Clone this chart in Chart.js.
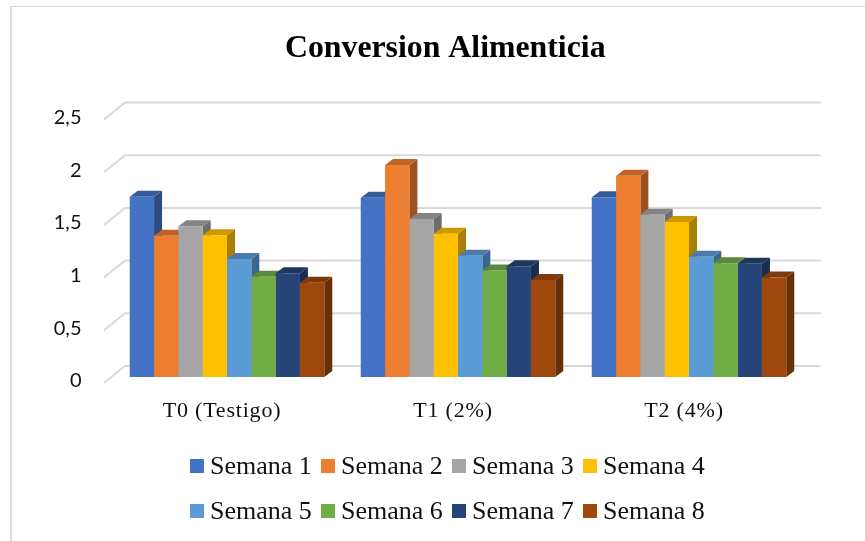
<!DOCTYPE html>
<html lang="es">
<head>
<meta charset="utf-8">
<title>Conversion Alimenticia</title>
<script src="https://cdn.jsdelivr.net/npm/chart.js@4"></script>
<style>
html,body{margin:0;padding:0;background:#fff;overflow:hidden}
#wrap{position:relative;width:865px;height:541px}
#frame{position:absolute;left:10px;top:6px;right:0;bottom:0;border-left:2px solid #dcdcdc;border-top:1px solid #d6d6d6}
canvas{position:absolute;left:0;top:0}
</style>
</head>
<body>
<div id="wrap"><div id="frame"></div><canvas id="c" width="865" height="541"></canvas></div>
<script>
const categories = ['T0 (Testigo)', 'T1 (2%)', 'T2 (4%)'];
const seriesNames = ['Semana 1','Semana 2','Semana 3','Semana 4','Semana 5','Semana 6','Semana 7','Semana 8'];
const semana1 = [1.71, 1.70, 1.705];
const semana2 = [1.34, 2.01, 1.91];
const semana3 = [1.43, 1.50, 1.54];
const semana4 = [1.345, 1.36, 1.47];
const semana5 = [1.12, 1.15, 1.14];
const semana6 = [0.95, 1.01, 1.08];
const semana7 = [0.985, 1.05, 1.075];
const semana8 = [0.895, 0.92, 0.945];
const seriesValues = [semana1, semana2, semana3, semana4, semana5, semana6, semana7, semana8];
const colors = ['#4472C4','#ED7D31','#A5A5A5','#FFC000','#5B9BD5','#70AD47','#264478','#9E480E'];
const yMax = 2.5, yStep = 0.5;

function shade(hex, f){
  const n = parseInt(hex.slice(1),16);
  return 'rgb(' + [(n>>16)&255,(n>>8)&255,n&255].map(v=>Math.round(v*f)).join(',') + ')';
}
const DEPTH_X = 8, DEPTH_Y = 6;

const wall3d = {
  id:'wall3d',
  beforeDatasetsDraw(chart){
    const {ctx, chartArea:a, scales:{y}} = chart;
    ctx.save();
    ctx.strokeStyle = '#d9d9d9';
    ctx.lineWidth = 2;
    y.ticks.forEach(t=>{
      const p = y.getPixelForValue(t.value);
      ctx.beginPath();
      ctx.moveTo(a.left-7.5, p+6);
      ctx.lineTo(a.left+13.5, p-11);
      ctx.lineTo(a.right+16.5, p-11);
      ctx.stroke();
    });
    // bar sides, left to right so nearer faces cover earlier ones
    chart.data.labels.forEach((_,i)=>{
      chart.data.datasets.forEach((ds,d)=>{
        const bar = chart.getDatasetMeta(d).data[i];
        const half = bar.width/2, L = bar.x-half, R = bar.x+half, T = bar.y, B = bar.base;
        const col = ds.backgroundColor;
        ctx.fillStyle = shade(col,0.66);
        ctx.beginPath();
        ctx.moveTo(R,T);ctx.lineTo(R+DEPTH_X,T-DEPTH_Y);ctx.lineTo(R+DEPTH_X,B-DEPTH_Y);ctx.lineTo(R,B);
        ctx.closePath();ctx.fill();
        ctx.fillStyle = shade(col,0.8);
        ctx.beginPath();
        ctx.moveTo(L,T);ctx.lineTo(L+DEPTH_X,T-DEPTH_Y);ctx.lineTo(R+DEPTH_X,T-DEPTH_Y);ctx.lineTo(R,T);
        ctx.closePath();ctx.fill();
      });
    });
    ctx.restore();
  }
};

// Two-row legend built from the chart's datasets
const LEGEND_PER_ROW = 4, LEGEND_LEFT = 190, LEGEND_COL = 131, LEGEND_TOP = 466, LEGEND_ROW = 45, LEGEND_BOX = 14, LEGEND_GAP = 6;
const rowLegend = {
  id:'rowLegend',
  afterDraw(chart){
    const {ctx} = chart;
    ctx.save();
    ctx.font = '26px "Liberation Serif"';
    ctx.textBaseline = 'alphabetic';
    ctx.textAlign = 'left';
    chart.data.datasets.forEach((ds,i)=>{
      const x = LEGEND_LEFT + (i%LEGEND_PER_ROW)*LEGEND_COL;
      const y = LEGEND_TOP + Math.floor(i/LEGEND_PER_ROW)*LEGEND_ROW;
      ctx.fillStyle = ds.backgroundColor;
      ctx.fillRect(x, y-LEGEND_BOX/2, LEGEND_BOX, LEGEND_BOX);
      ctx.fillStyle = '#111';
      ctx.fillText(ds.label, x+LEGEND_BOX+LEGEND_GAP, y+8);
    });
    ctx.restore();
  }
};

new Chart(document.getElementById('c'),{
  type:'bar',
  data:{
    labels:categories,
    datasets:seriesNames.map((name,i)=>({label:name,data:seriesValues[i],backgroundColor:colors[i],borderWidth:0}))
  },
  plugins:[wall3d,rowLegend],
  options:{
    responsive:false,
    animation:false,
    layout:{padding:{left:86,right:60.5,top:0,bottom:104}},
    datasets:{bar:{categoryPercentage:0.842,barPercentage:1}},
    plugins:{
      tooltip:{enabled:false},
      legend:{display:false},
      title:{
        display:true,
        text:'Conversion Alimenticia',
        color:'#000',
        font:{family:'"Liberation Serif"',size:31.8,weight:'bold',lineHeight:1.2},
        padding:{top:30,bottom:45.3}
      }
    },
    scales:{
      x:{
        afterFit(s){
          s.height = 60;
          if(!s._spaced){
            s._spaced = true;
            const draw = s.drawLabels;
            s.drawLabels = function(area){
              s.ctx.save();
              s.ctx.letterSpacing = '0.8px';
              draw.call(s,area);
              s.ctx.restore();
            };
          }
        },
        grid:{display:false},
        border:{display:false},
        ticks:{color:'#111',font:{family:'"Liberation Serif"',size:22},padding:13,labelOffset:-5,maxRotation:0}
      },
      y:{
        min:0,max:yMax,
        afterFit(s){
          s.width = 25.5;
          s._computeLabelArea = () => undefined; // tick labels sit left of the narrow box
        },
        grid:{display:false,drawTicks:false},
        border:{display:false},
        ticks:{
          stepSize:yStep,
          color:'#111',
          padding:30,
          labelOffset:4,
          font:{family:'Lato',size:20},
          callback:v=>String(v).replace('.',',')
        }
      }
    }
  }
});
</script>
</body>
</html>
